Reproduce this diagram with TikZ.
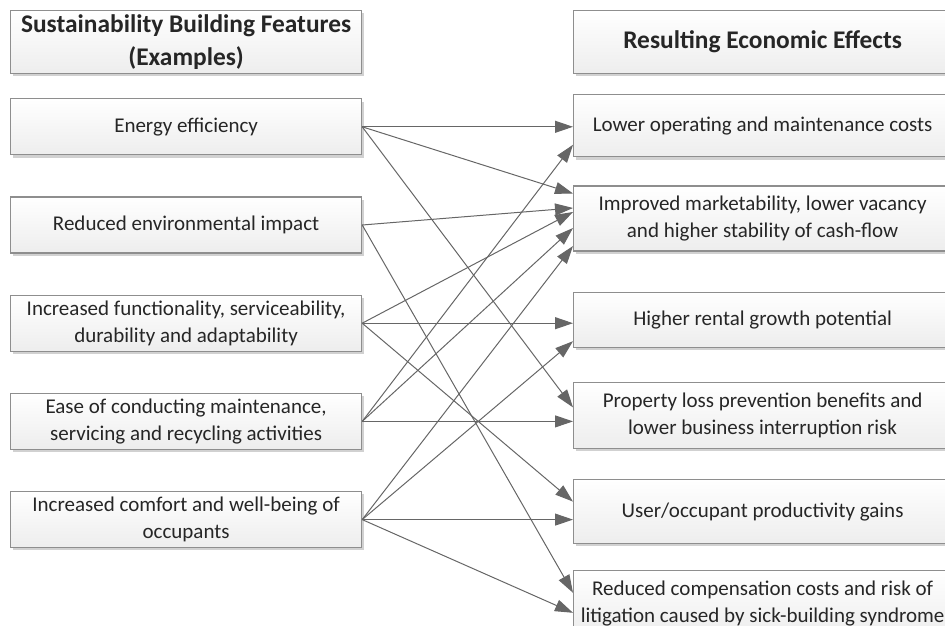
\documentclass[tikz,border=0pt]{standalone}
\usepackage{fontspec}
\setmainfont{Carlito}
\usepackage{xcolor}
\usepackage{tikz}
\usetikzlibrary{
  positioning,
  arrows.meta,
  shadows
}

\definecolor{boxline}{HTML}{8E8E8E}
\definecolor{arrowgray}{HTML}{666666}
\definecolor{textgray}{HTML}{262626}

\begin{document}
\begin{tikzpicture}[
  font=\fontsize{10.5}{13.5}\selectfont,
  text=textgray,
  box/.style={
    rectangle,
    draw=boxline,
    line width=0.6pt,
    top color=white,
    bottom color=black!7,
    drop shadow={shadow xshift=1.4pt, shadow yshift=-1.4pt, fill=black!18, opacity=1},
    align=center,
    inner sep=1.5pt
  },
  feature/.style={
    box,
    minimum width=175.5pt,
    minimum height=28pt
  },
  effect/.style={
    box,
    minimum width=189pt,
    minimum height=32pt
  },
  header/.style={
    font=\fontsize{12.7}{16.5}\selectfont\bfseries,
    minimum height=31.5pt
  },
  arrow/.style={
    -{Triangle[length=9pt, width=6pt]},
    line width=0.5pt,
    draw=arrowgray
  }
]
\useasboundingbox (0,0) rectangle (472.5pt,-312.5pt);

% Building features
\node[feature, header, anchor=north west] (featHead) at (5pt,-5pt) {Sustainability Building Features\\(Examples)};
\node[feature, below=12pt of featHead] (energy) {Energy efficiency};
\node[feature, below=20.5pt of energy] (impact) {Reduced environmental impact};
\node[feature, below=20.5pt of impact] (function) {Increased functionality, serviceability,\\durability and adaptability};
\node[feature, below=20.5pt of function] (maint) {Ease of conducting maintenance,\\servicing and recycling activities};
\node[feature, below=20.5pt of maint] (comfort) {Increased comfort and well-being of\\occupants};

% Economic effects
\node[effect, header, anchor=north west] (effHead) at (286.5pt,-5pt) {Resulting Economic Effects};
\node[effect, below=10pt of effHead, minimum height=31pt] (costs) {Lower operating and maintenance costs};
\node[effect, below=14pt of costs, minimum height=32.5pt] (market) {Improved marketability, lower vacancy\\and higher stability of cash-flow};
\node[effect, below=20pt of market, minimum height=27.5pt] (rental) {Higher rental growth potential};
\node[effect, below=17pt of rental, minimum height=33pt] (loss) {Property loss prevention benefits and\\lower business interruption risk};
\node[effect, below=15pt of loss] (product) {User/occupant productivity gains};
\node[effect, below=13pt of product, minimum height=32.5pt] (litig) {Reduced compensation costs and risk of\\litigation caused by sick-building syndrome};

% Energy efficiency
\draw[arrow] (energy.east) -- (energy.east -| costs.west);
\draw[arrow] (energy.east) -- ([yshift=12.5pt]market.west);
\draw[arrow] (energy.east) -- ([yshift=4pt]loss.west);

% Environmental impact
\draw[arrow] (impact.east) -- ([yshift=5.25pt]market.west);
\draw[arrow] (impact.east) -- ([yshift=5.25pt]litig.west);

% Functionality
\draw[arrow] (function.east) -- ([yshift=3.25pt]market.west);
\draw[arrow] (function.east) -- (function.east -| rental.west);
\draw[arrow] (function.east) -- ([yshift=5pt]product.west);

% Maintenance
\draw[arrow] (maint.east) -- ([yshift=-9.5pt]costs.west);
\draw[arrow] (maint.east) -- ([yshift=-4.75pt]market.west);
\draw[arrow] (maint.east) -- (maint.east -| loss.west);

% Comfort
\draw[arrow] (comfort.east) -- ([yshift=-13.75pt]market.west);
\draw[arrow] (comfort.east) -- ([yshift=-10.75pt]rental.west);
\draw[arrow] (comfort.east) -- (comfort.east -| product.west);
\draw[arrow] (comfort.east) -- ([yshift=-4.75pt]litig.west);

\end{tikzpicture}
\end{document}
